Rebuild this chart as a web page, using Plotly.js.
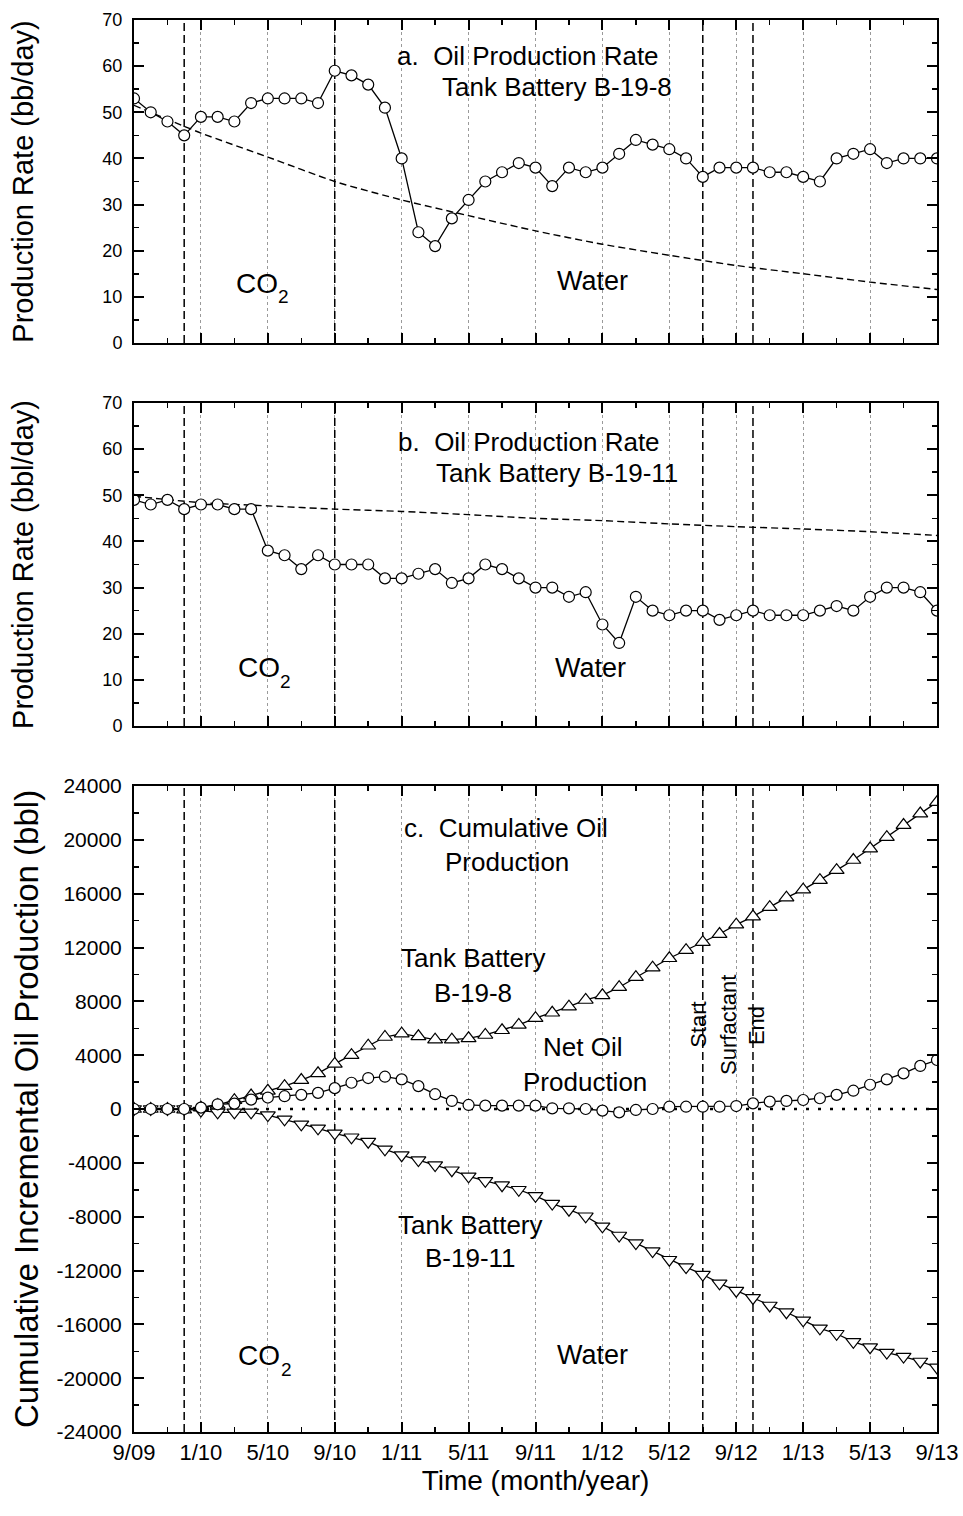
<!DOCTYPE html>
<html>
<head>
<meta charset="utf-8">
<script src="https://cdn.plot.ly/plotly-3.0.1.min.js"></script>
<style>
html,body{margin:0;padding:0;background:#fff;}
#chart{width:963px;height:1516px;}
</style>
</head>
<body>
<div id="chart"></div>
<script>
// ---------- data ----------
// months since 9/09, tick labels every 4 months
var tickLabels = ['9/09','1/10','5/10','9/10','1/11','5/11','9/11','1/12','5/12','9/12','1/13','5/13','9/13'];
var rateTicks = [0,10,20,30,40,50,60,70];
var cumTicks = [-24000,-20000,-16000,-12000,-8000,-4000,0,4000,8000,12000,16000,20000,24000];

// a. Oil production rate, Tank Battery B-19-8 (bbl/day), monthly from 9/09
var rateA = [53,50,48,45,49,49,48,52,53,53,53,52,
             59,58,56,51,40,24,21,27,31,35,37,39,
             38,34,38,37,38,41,44,43,42,40,36,38,
             38,38,37,37,36,35,40,41,42,39,40,40,40];
// a. decline (baseline) curve, read every 4 months
var declineA = [51.5,45.5,40.3,35.0,31.0,27.6,24.3,21.4,19.0,16.8,15.0,13.2,11.6];

// b. Oil production rate, Tank Battery B-19-11 (bbl/day)
var rateB = [49,48,49,47,48,48,47,47,38,37,34,37,
             35,35,35,32,32,33,34,31,32,35,34,32,
             30,30,28,29,22,18,28,25,24,25,25,23,
             24,25,24,24,24,25,26,25,28,30,30,29,25];
var declineB = [49.8,48.4,47.7,47.0,46.5,45.8,45.0,44.5,43.8,43.2,42.7,42.1,41.3];

// c. Cumulative incremental oil production (bbl)
var cumB198 = [0,0,0,-50,100,300,650,1000,1350,1700,2150,2650,
               3350,4000,4700,5350,5600,5400,5150,5150,5250,5500,5850,6250,
               6750,7150,7600,8100,8450,9050,9800,10500,11200,11800,12400,13000,
               13700,14300,15000,15700,16300,17000,17750,18500,19350,20200,21100,21950,22800];
var cumB1911 = [0,0,0,0,-120,-250,-250,-250,-450,-770,-1140,-1440,
                -1810,-2100,-2430,-3000,-3430,-3800,-4170,-4550,-5000,-5340,-5660,-6000,
                -6450,-7030,-7480,-7970,-8720,-9400,-9960,-10560,-11200,-11750,-12300,-12950,
                -13500,-14040,-14600,-15100,-15700,-16300,-16700,-17300,-17700,-18100,-18400,-18760,-19200];
var netOil = [0,0,0,0,100,350,400,700,850,950,1050,1200,
              1550,1950,2300,2400,2200,1700,1100,600,300,250,250,250,
              250,50,50,0,-120,-250,-70,0,170,170,170,170,
              220,420,550,600,670,800,1050,1360,1800,2200,2650,3200,3640];

// event lines (months since 9/09)
var eventMonths = [3,12,34,37];

// ---------- derived positions through the axis scales ----------
var months = rateA.map(function(_, i){ return i; });
var tickVals = tickLabels.map(function(_, i){ return i*4; });
var declineMonths = declineA.map(function(_, i){ return i*4; });
var xMax = tickVals[tickVals.length-1];
var rateRange = [rateTicks[0], rateTicks[rateTicks.length-1]];
var cumRange = [cumTicks[0], cumTicks[cumTicks.length-1]];

var FONT = 'Liberation Sans, Arial, Helvetica, sans-serif';

function circTrace(x, y, xa, ya){
  return {x:x, y:y, xaxis:xa, yaxis:ya, type:'scatter', mode:'lines+markers',
    line:{color:'#000', width:1.3},
    marker:{symbol:'circle', size:11, color:'#fff', line:{color:'#000', width:1.2}},
    showlegend:false, hoverinfo:'skip'};
}
function dashTrace(x, y, xa, ya){
  return {x:x, y:y, xaxis:xa, yaxis:ya, type:'scatter', mode:'lines',
    line:{color:'#000', width:1.4, dash:'7px,4px', shape:'spline', smoothing:0.6},
    showlegend:false, hoverinfo:'skip'};
}
function triTrace(x, y, sym, xa, ya){
  return {x:x, y:y, xaxis:xa, yaxis:ya, type:'scatter', mode:'lines+markers',
    line:{color:'#000', width:1.3},
    marker:{symbol:sym, size:13, color:'#fff', line:{color:'#000', width:1.2}},
    showlegend:false, hoverinfo:'skip'};
}
function eventTraces(xa, ya, range){
  return eventMonths.map(function(m){
    return {x:[m,m], y:range, xaxis:xa, yaxis:ya, type:'scatter', mode:'lines',
      line:{color:'#000', width:1.5, dash:'8px,4px'}, showlegend:false, hoverinfo:'skip'};
  });
}

var data = []
  .concat(eventTraces('x','y',rateRange))
  .concat(eventTraces('x2','y2',rateRange))
  .concat(eventTraces('x3','y3',cumRange))
  .concat([
    {x:[0,xMax], y:[0,0], xaxis:'x3', yaxis:'y3', type:'scatter', mode:'lines',
     line:{color:'#000', width:2.6, dash:'3px,9px'}, showlegend:false, hoverinfo:'skip'},
    dashTrace(declineMonths, declineA, 'x', 'y'),
    circTrace(months, rateA, 'x', 'y'),
    dashTrace(declineMonths, declineB, 'x2', 'y2'),
    circTrace(months, rateB, 'x2', 'y2'),
    triTrace(months, cumB198, 'triangle-up', 'x3', 'y3'),
    triTrace(months, cumB1911, 'triangle-down', 'x3', 'y3'),
    circTrace(months, netOil, 'x3', 'y3')
  ]);

var W = 963, H = 1516;
var xDom = [134/W, 937/W];
function yDom(top, bot){ return [1 - bot/H, 1 - top/H]; }

function xAxis(anchor, showLabels, title){
  var ax = {domain:xDom, anchor:anchor, range:[0,xMax], tickmode:'array', tickvals:tickVals,
    ticktext:tickLabels, showticklabels:showLabels,
    ticks:'inside', ticklen:10, tickwidth:2, tickcolor:'#000',
    showline:true, linewidth:2, linecolor:'#000', mirror:'ticks',
    showgrid:true, gridcolor:'#9a9a9a', gridwidth:1, griddash:'dot',
    zeroline:false, automargin:false,
    minor:{tickmode:'linear', tick0:0, dtick:2, ticks:'inside', ticklen:5, tickwidth:1.5, tickcolor:'#000', showgrid:false},
    tickfont:{family:FONT, size:22, color:'#000'}, fixedrange:true};
  if (title) ax.title = {text:title, font:{family:FONT, size:28, color:'#000'}, standoff:4};
  return ax;
}
function yAxis(anchor, dom, ticks, mdtick, fs, title, tfs, standoff){
  return {domain:dom, anchor:anchor, range:[ticks[0], ticks[ticks.length-1]],
    tickmode:'array', tickvals:ticks, ticktext:ticks.map(function(v){ return String(v); }),
    ticks:'inside', ticklen:10, tickwidth:2, tickcolor:'#000',
    showline:true, linewidth:2, linecolor:'#000', mirror:'ticks',
    showgrid:false, zeroline:false, automargin:false,
    minor:{tickmode:'linear', tick0:0, dtick:mdtick, ticks:'inside', ticklen:5, tickwidth:1.5, tickcolor:'#000', showgrid:false},
    tickfont:{family:FONT, size:fs, color:'#000'}, ticklabelstandoff:6, fixedrange:true,
    title:{text:title, font:{family:FONT, size:tfs, color:'#000'}, standoff:standoff}};
}

function ann(text, x, y, xr, yr, size, extra){
  var a = {text:text, x:x, y:y, xref:xr, yref:yr, showarrow:false,
    xanchor:'center', yanchor:'middle', font:{family:FONT, size:size, color:'#000'}};
  if (extra) for (var k in extra) a[k] = extra[k];
  return a;
}
// "CO" with a separate subscript "2"
function co2(xa, ya, xCO, yCO, x2, y2){
  return [ann('CO', xCO, yCO, xa, ya, 28), ann('2', x2, y2, xa, ya, 19)];
}
var annotations = [
  ann('a.  Oil Production Rate', 23.55, 62.2, 'x', 'y', 26),
  ann('Tank Battery B-19-8', 25.3, 55.5, 'x', 'y', 26),
  ann('Water', 27.4, 13.4, 'x', 'y', 27),
  ann('b.  Oil Production Rate', 23.6, 61.5, 'x2', 'y2', 26),
  ann('Tank Battery B-19-11', 25.3, 54.8, 'x2', 'y2', 26),
  ann('Water', 27.3, 12.6, 'x2', 'y2', 27),
  ann('c.  Cumulative Oil', 22.25, 20880, 'x3', 'y3', 26),
  ann('Production', 22.3, 18350, 'x3', 'y3', 26),
  ann('Tank Battery', 20.3, 11220, 'x3', 'y3', 26),
  ann('B-19-8', 20.25, 8620, 'x3', 'y3', 26),
  ann('Net Oil', 26.8, 4600, 'x3', 'y3', 26),
  ann('Production', 26.95, 2000, 'x3', 'y3', 26),
  ann('Tank Battery', 20.1, -8620, 'x3', 'y3', 26),
  ann('B-19-11', 20.1, -11070, 'x3', 'y3', 26),
  ann('Water', 27.4, -18280, 'x3', 'y3', 27),
  ann('Start', 33.7, 6240, 'x3', 'y3', 22, {textangle:-90}),
  ann('Surfactant', 35.5, 6240, 'x3', 'y3', 22, {textangle:-90}),
  ann('End', 37.25, 6170, 'x3', 'y3', 22, {textangle:-90})
].concat(co2('x','y', 7.35, 13.0, 8.95, 10.0))
 .concat(co2('x2','y2', 7.47, 12.6, 9.05, 9.7))
 .concat(co2('x3','y3', 7.47, -18280, 9.1, -19390));

var layout = {
  width:W, height:H, margin:{l:0, r:0, t:0, b:0},
  paper_bgcolor:'#fff', plot_bgcolor:'#fff', showlegend:false,
  font:{family:FONT, color:'#000'},
  xaxis: xAxis('y', false),
  xaxis2: xAxis('y2', false),
  xaxis3: xAxis('y3', true, 'Time (month/year)'),
  yaxis: yAxis('x', yDom(20,343), rateTicks, 5, 18, 'Production Rate (bb/day)', 29, 60),
  yaxis2: yAxis('x2', yDom(403,726), rateTicks, 5, 18, 'Production Rate (bbl/day)', 29, 60),
  yaxis3: yAxis('x3', yDom(786,1432), cumTicks, 2000, 21, 'Cumulative Incremental Oil Production (bbl)', 33, 8),
  annotations:annotations
};

Plotly.newPlot('chart', data, layout, {staticPlot:true, displayModeBar:false});
</script>
</body>
</html>
